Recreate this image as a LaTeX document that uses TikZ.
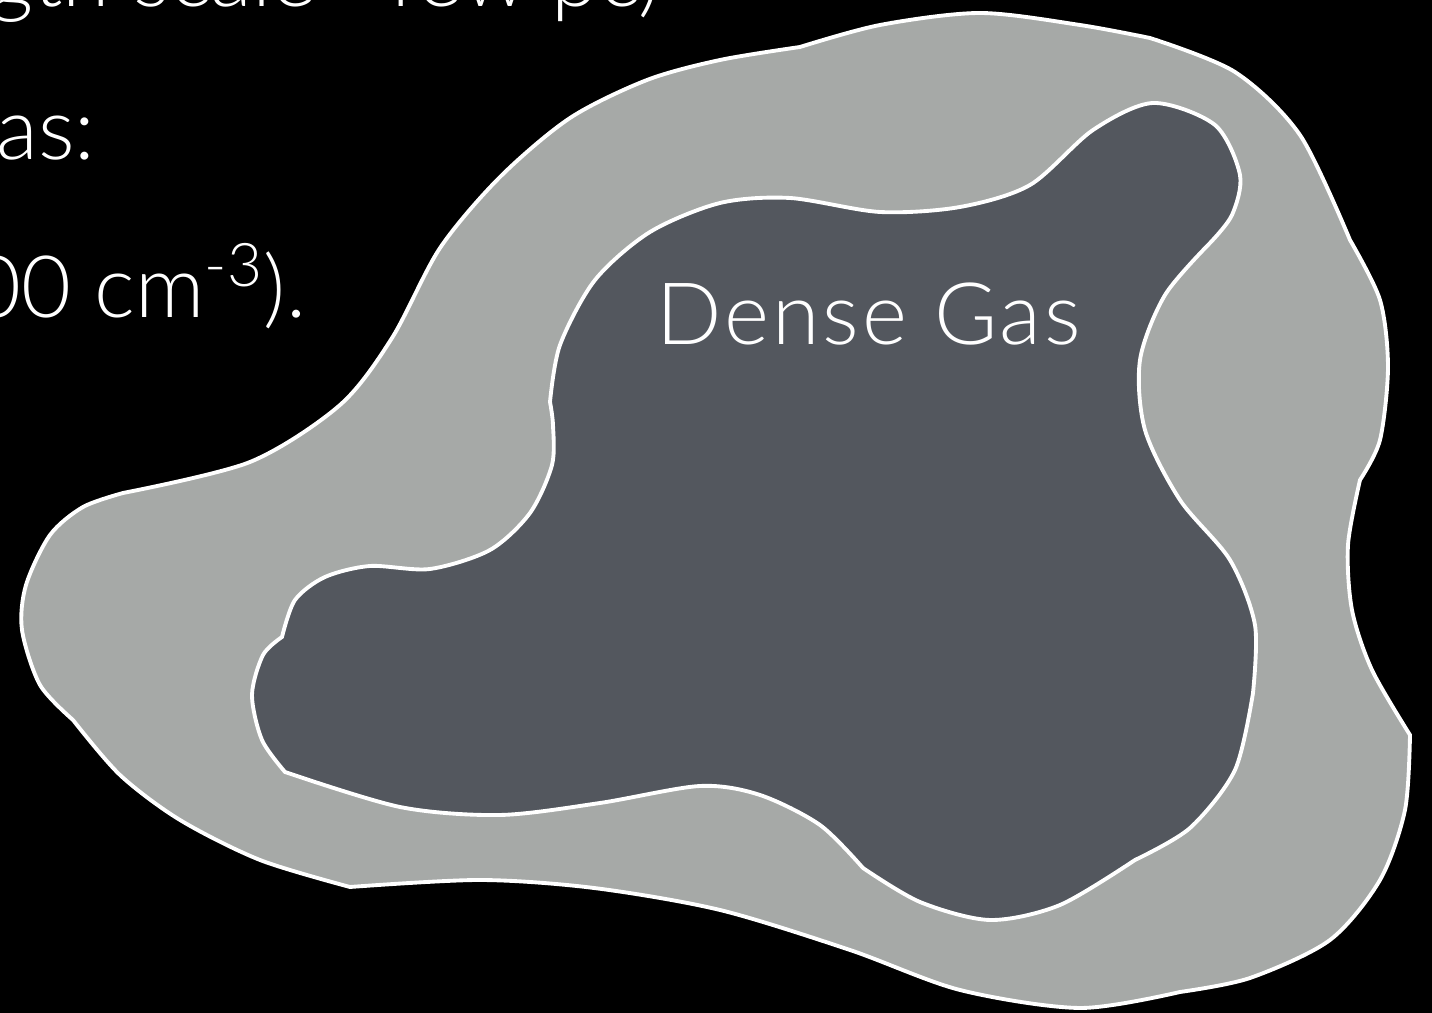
\documentclass[tikz,border=0pt]{standalone}
\usepackage{fontspec}
\setmainfont{Lato Light}
\newfontfamily\widelight{Lato Light}[LetterSpace=3.5]
\usepackage{tikz}
\usetikzlibrary{positioning}
\definecolor{diffusegray}{HTML}{A6A9A7}
\definecolor{densegray}{HTML}{53575E}
\tikzset{
  line cap=round,
  line join=round,
  cloud/.style={fill=#1, draw=white, line width=1.1pt},
  blurb/.style={text=white, inner sep=0pt, anchor=base east,
    font=\fontsize{24.5}{30}\selectfont},
  tag/.style={text=white, inner sep=0pt, anchor=base,
    font=\widelight\fontsize{24.5}{30}\selectfont}
}

\begin{document}
\begin{tikzpicture}[x=0.01cm, y=-0.01cm]
  \fill[black] (0,0) rectangle (1432,1013);
  \useasboundingbox (0,0) rectangle (1432,1013);
  \clip (0,0) rectangle (1432,1013);

  % slide text, cut at the left edge
  \node[blurb] (scale) at (661,7) {gth scale \textasciitilde few pc)};
  \node[blurb] (gas) at (96,160) {as:};
  \node[blurb] (dens) at (307,318) {00 cm\textsuperscript{-3}).};

  % outer envelope
  \filldraw[cloud=diffusegray]
    plot[smooth] coordinates {(123,493) (250,462) (340,405) (392,338) (440,248)
      (500,177) (570,118) (647,80) (720,60) (800,47)}
    -- plot[smooth] coordinates {(800,47) (880,25) (980,13) (1080,25) (1150,38)}
    -- plot[smooth] coordinates {(1150,38) (1235,72) (1300,135) (1350,240)}
    -- plot[smooth] coordinates {(1350,240) (1380,300) (1388,367) (1380,440) (1360,480)}
    -- plot[smooth] coordinates {(1360,480) (1348,545) (1352,610) (1372,670) (1410,735)}
    -- plot[smooth] coordinates {(1410,735) (1405,810) (1380,880) (1330,940) (1250,978)
      (1180,992)}
    -- plot[smooth] coordinates {(1180,992) (1080,1008) (960,990) (850,950) (720,910)
      (594,888) (480,880) (350,887)}
    -- plot[smooth] coordinates {(350,887) (260,860) (180,820) (120,775) (73,720)}
    -- plot[smooth] coordinates {(73,720) (40,685) (22,630) (26,585) (50,535) (83,507)
      (123,493)}
    -- cycle;

  % dense core
  \filldraw[cloud=densegray]
    plot[smooth] coordinates {(550,402) (560,345) (595,280) (650,232) (720,203) (790,198)
      (880,212) (960,207) (1030,185) (1093,130) (1153,103) (1215,125) (1240,175)
      (1232,215) (1210,243)}
    -- plot[smooth] coordinates {(1210,243) (1165,295) (1140,360) (1145,430) (1180,500)
      (1230,560) (1255,625) (1253,693)}
    -- plot[smooth] coordinates {(1253,693) (1235,770) (1190,828) (1135,860)}
    -- plot[smooth] coordinates {(1135,860) (1060,905) (990,920) (920,902) (863,868)}
    -- plot[smooth] coordinates {(863,868) (820,825) (760,795) (700,786) (600,803)
      (500,815) (400,807) (285,772)}
    -- plot[smooth] coordinates {(285,772) (262,740) (252,695) (263,655) (282,637)}
    -- plot[smooth] coordinates {(282,637) (295,600) (325,577) (370,566) (430,569)
      (490,550) (530,513) (552,465) (553,425) (550,402)}
    -- cycle;

  \node[tag] (dense) at (869,345) {Dense Gas};
\end{tikzpicture}
\end{document}
